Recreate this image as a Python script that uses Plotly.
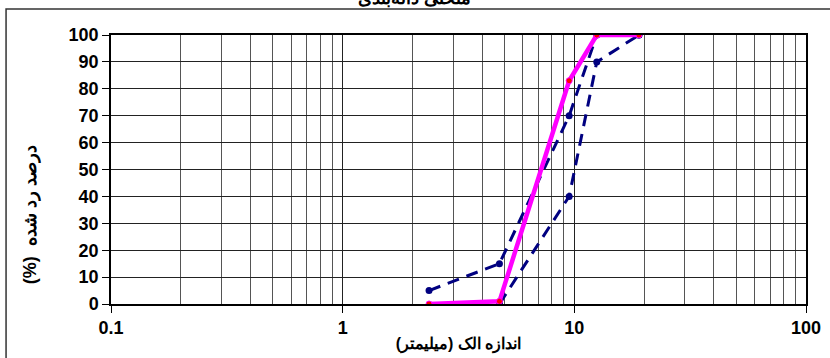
import plotly.graph_objects as go

sieve_mm = [2.36, 4.75, 9.5, 12.5, 19]
sample_pass = [0, 1, 83, 100, 100]
upper_limit = [5, 15, 70, 100, 100]
lower_sieve_mm = [4.75, 9.5, 12.5, 19]
lower_limit = [0, 40, 90, 100]

x_ticks = [0.1, 1, 10, 100]
x_tick_text = ["0.1", "1", "10", "100"]
y_ticks = [0, 10, 20, 30, 40, 50, 60, 70, 80, 90, 100]

RLM = "\u200f"
title_text = "منحنی دانه‌بندی"
x_title = RLM + "اندازه الک (میلیمتر)" + RLM
y_title = RLM + "درصد رد شده  (%)" + RLM

navy = "#000080"
grid_col = "#555555"
fnt = "Liberation Sans, Arial, sans-serif"

fig = go.Figure()
fig.add_trace(go.Scatter(x=sieve_mm, y=upper_limit, mode="lines+markers",
                         line=dict(color=navy, width=3, dash="12px,8px"),
                         marker=dict(color=navy, size=7), showlegend=False))
fig.add_trace(go.Scatter(x=lower_sieve_mm, y=lower_limit, mode="lines+markers",
                         line=dict(color=navy, width=3, dash="12px,8px"),
                         marker=dict(color=navy, size=7), showlegend=False))
fig.add_trace(go.Scatter(x=sieve_mm, y=sample_pass, mode="lines+markers",
                         line=dict(color="#FF00FF", width=4.5),
                         marker=dict(color="#FF0000", size=6,
                                     line=dict(color="#FF00FF", width=1)),
                         showlegend=False))

fig.update_layout(
    width=830, height=358,
    margin=dict(l=111, r=24, t=35, b=54, autoexpand=False),
    paper_bgcolor="white", plot_bgcolor="white",
    font=dict(family=fnt, color="black"),
    title=dict(text="<b>" + title_text + "</b>", x=0.5, xanchor="center",
               y=1.0, yanchor="bottom", yref="container", pad=dict(t=0, b=-4),
               font=dict(size=18, family=fnt, color="black")),
    shapes=[dict(type="rect", xref="paper", yref="paper",
                 x0=-0.151, x1=1.2, y0=-0.5, y1=1.097,
                 line=dict(color="#333333", width=1.5), fillcolor="rgba(0,0,0,0)",
                 layer="below")],
    annotations=[dict(text="<b>" + y_title + "</b>", textangle=-90,
                      xref="paper", yref="paper", x=-0.1165, y=0.33,
                      xanchor="center", yanchor="middle", showarrow=False,
                      font=dict(size=18, family=fnt, color="black"))],
)

fig.update_xaxes(
    type="log", range=[-1, 2], automargin=False,
    tickvals=x_ticks, ticktext=["<b>" + t + "</b>" for t in x_tick_text],
    tickfont=dict(size=18, family=fnt, color="black"),
    ticks="outside", ticklen=7, tickcolor="black",
    showgrid=True, gridcolor="#222222", gridwidth=1,
    minor=dict(tickvals=[m * d for d in [0.1, 1, 10] for m in range(2, 10)],
               showgrid=True, gridcolor=grid_col, gridwidth=1, ticks=""),
    showline=True, linecolor="black", linewidth=1.5, mirror=True,
    zeroline=False,
    title=dict(text="<b>" + x_title + "</b>", standoff=0,
               font=dict(size=16, family=fnt, color="black")),
)
fig.update_yaxes(
    range=[0, 100], automargin=False,
    tickvals=y_ticks, ticktext=["<b>" + str(v) + "</b>" for v in y_ticks],
    tickfont=dict(size=18, family=fnt, color="black"),
    ticks="outside", ticklen=7, tickcolor="black",
    showgrid=True, gridcolor="#222222", gridwidth=1,
    showline=True, linecolor="black", linewidth=1.5, mirror=True,
    zeroline=False,
)

fig.write_html("out.html", config={"displayModeBar": False},
               post_script="document.body.style.margin='0';document.body.style.overflow='hidden';")
